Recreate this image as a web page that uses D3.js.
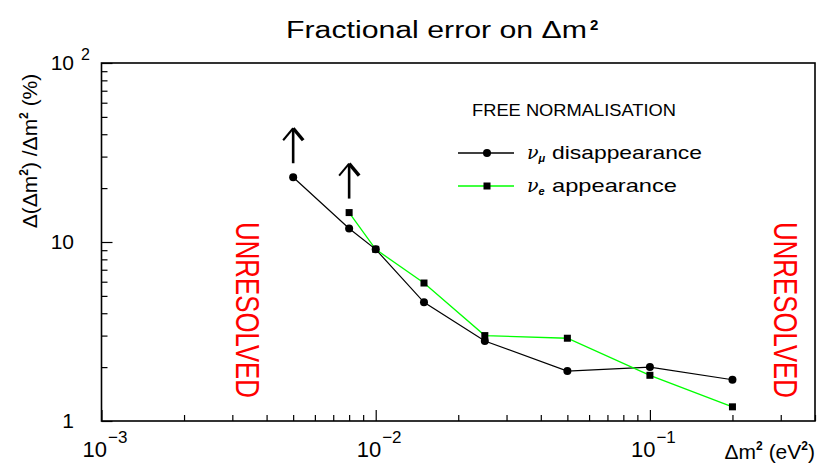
<!DOCTYPE html>
<html>
<head>
<meta charset="utf-8">
<script src="https://cdn.jsdelivr.net/npm/d3@7/dist/d3.min.js"></script>
<style>
  html, body { margin: 0; padding: 0; background: #fff; }
  svg { display: block; font-family: "Liberation Sans", Arial, sans-serif; }
</style>
</head>
<body>
<svg id="chart" width="818" height="466"></svg>
<script>
// Δm² values (eV²) and fractional errors (%)
const disappearanceMass = [0.005, 0.008, 0.01, 0.015, 0.025, 0.05, 0.1, 0.2];
const disappearanceError = [23.0, 11.9, 9.1, 4.6, 2.8, 1.9, 2.0, 1.7];
const appearanceMass = [0.008, 0.01, 0.015, 0.025, 0.05, 0.1, 0.2];
const appearanceError = [14.6, 9.1, 5.9, 3.0, 2.9, 1.8, 1.2];

const xMajorTicks = [1e-3, 1e-2, 1e-1];
const xTickExponents = ["\u22123", "\u22122", "\u22121"];
const yMajorTicks = [1, 10, 100];

const svg = d3.select("#chart");
const L = 101.5, R = 815, T = 63, B = 421;

const x = d3.scaleLog().domain([1e-3, 0.4]).range([L, R]);
const y = d3.scaleLog().domain([1, 100]).range([B, T]);

// minor ticks: 2..9 within each decade
const xMinor = [];
for (let e = -3; e <= -1; e++) for (let k = 2; k <= 9; k++) {
  const v = k * Math.pow(10, e);
  if (v <= 0.4) xMinor.push(v);
}
const yMinor = [];
for (let e = 0; e <= 1; e++) for (let k = 2; k <= 9; k++) yMinor.push(k * Math.pow(10, e));

// axes with inward ticks
function styleAxis(g) {
  g.select(".domain").remove();
  g.selectAll("text").remove();
  g.selectAll("line").attr("stroke", "#000").attr("stroke-width", 1.2);
}
svg.append("g").attr("transform", `translate(0,${B})`)
  .call(d3.axisBottom(x).tickValues(xMinor).tickSize(-6).tickFormat(""))
  .call(styleAxis);
svg.append("g").attr("transform", `translate(0,${B})`)
  .call(d3.axisBottom(x).tickValues(xMajorTicks).tickSize(-11).tickFormat(""))
  .call(styleAxis);
svg.append("g").attr("transform", `translate(${L},0)`)
  .call(d3.axisLeft(y).tickValues(yMinor).tickSize(-6).tickFormat(""))
  .call(styleAxis);
svg.append("g").attr("transform", `translate(${L},0)`)
  .call(d3.axisLeft(y).tickValues(yMajorTicks).tickSize(-11).tickFormat(""))
  .call(styleAxis);

// frame
svg.append("rect").attr("x", L).attr("y", T).attr("width", R - L).attr("height", B - T)
  .attr("fill", "none").attr("stroke", "#000").attr("stroke-width", 1.6);

// x tick labels (10^n)
xMajorTicks.forEach((v, i) => {
  const t = svg.append("text").attr("x", x(v) - 19).attr("y", 457)
    .attr("font-size", 22).attr("fill", "#000");
  t.append("tspan").text("10");
  t.append("tspan").attr("dy", -14).attr("dx", 1).attr("font-size", 17).text(xTickExponents[i]);
});

// y tick labels
yMajorTicks.forEach(v => {
  const t = svg.append("text").attr("x", 74).attr("y", y(v) + 7)
    .attr("font-size", 21).attr("text-anchor", "end").attr("fill", "#000");
  t.text(v === 100 ? "10" : String(v));
  if (v === 100) {
    svg.append("text").attr("x", 81).attr("y", y(v) - 3).attr("font-size", 16).text("2");
  }
});

// axis titles
const xt = svg.append("text").attr("x", R).attr("y", 459).attr("text-anchor", "end")
  .attr("font-size", 21).attr("fill", "#000");
xt.append("tspan").text("\u0394m");
xt.append("tspan").attr("dy", -9).attr("font-size", 12).attr("font-weight", "bold").text("2");
xt.append("tspan").attr("dy", 9).text(" (eV");
xt.append("tspan").attr("dy", -9).attr("font-size", 12).attr("font-weight", "bold").text("2");
xt.append("tspan").attr("dy", 9).text(")");

const yt = svg.append("text").attr("transform", "translate(37,151) rotate(-90)")
  .attr("text-anchor", "middle").attr("font-size", 21).attr("fill", "#000");
yt.append("tspan").text("\u0394(\u0394m");
yt.append("tspan").attr("dy", -9).attr("font-size", 12).attr("font-weight", "bold").text("2");
yt.append("tspan").attr("dy", 9).text(") /\u0394m");
yt.append("tspan").attr("dy", -9).attr("font-size", 12).attr("font-weight", "bold").text("2");
yt.append("tspan").attr("dy", 9).text(" (%)");

// title
svg.append("text").attr("x", 286).attr("y", 38).attr("font-size", 23)
  .attr("textLength", 301).attr("lengthAdjust", "spacingAndGlyphs")
  .text("Fractional error on \u0394m");
svg.append("text").attr("x", 590).attr("y", 30).attr("font-size", 15)
  .attr("font-weight", "bold").text("2");

// UNRESOLVED regions
[236, 774].forEach(px => {
  svg.append("text").attr("transform", `translate(${px},310) rotate(90)`)
    .attr("text-anchor", "middle").attr("font-size", 33).attr("fill", "#ff0000")
    .attr("textLength", 176).attr("lengthAdjust", "spacingAndGlyphs")
    .text("UNRESOLVED");
});

// series lines
const line = d3.line().x(d => x(d[0])).y(d => y(d[1]));
const disData = disappearanceMass.map((m, i) => [m, disappearanceError[i]]);
const appData = appearanceMass.map((m, i) => [m, appearanceError[i]]);

svg.append("path").datum(disData).attr("d", line)
  .attr("fill", "none").attr("stroke", "#000").attr("stroke-width", 1.2);
svg.append("path").datum(appData).attr("d", line)
  .attr("fill", "none").attr("stroke", "#00ff00").attr("stroke-width", 1.3);

svg.selectAll("circle.dis").data(disData).enter().append("circle")
  .attr("class", "dis").attr("cx", d => x(d[0])).attr("cy", d => y(d[1]))
  .attr("r", 4).attr("fill", "#000");
svg.selectAll("rect.app").data(appData).enter().append("rect")
  .attr("class", "app").attr("x", d => x(d[0]) - 3.5).attr("y", d => y(d[1]) - 3.5)
  .attr("width", 7).attr("height", 7).attr("fill", "#000");

// lower-limit arrows above the first point of each series
function arrow(px, py) {
  const tip = py - 49, base = py - 14;
  svg.append("line").attr("x1", px).attr("x2", px).attr("y1", base).attr("y2", tip + 1)
    .attr("stroke", "#000").attr("stroke-width", 2.6);
  svg.append("path").attr("d", `M${px - 10},${tip + 12} L${px},${tip} `)
    .attr("fill", "none").attr("stroke", "#000").attr("stroke-width", 2);
  svg.append("path").attr("d", `M${px},${tip} L${px + 10},${tip + 12}`)
    .attr("fill", "none").attr("stroke", "#000").attr("stroke-width", 3.5);
}
arrow(x(disData[0][0]), y(disData[0][1]));
arrow(x(appData[0][0]), y(appData[0][1]));

// legend
svg.append("text").attr("x", 472).attr("y", 116).attr("font-size", 17)
  .attr("textLength", 204).attr("lengthAdjust", "spacingAndGlyphs")
  .text("FREE NORMALISATION");

const legendRows = [
  { y: 153, color: "#000", marker: "circle", sub: "\u03bc", label: "disappearance", len: 150 },
  { y: 186, color: "#00ff00", marker: "square", sub: "e", label: "appearance", len: 125 }
];
legendRows.forEach(r => {
  svg.append("line").attr("x1", 458).attr("x2", 514).attr("y1", r.y).attr("y2", r.y)
    .attr("stroke", r.color).attr("stroke-width", 1.3);
  if (r.marker === "circle") {
    svg.append("circle").attr("cx", 487).attr("cy", r.y).attr("r", 4).attr("fill", "#000");
  } else {
    svg.append("rect").attr("x", 483.5).attr("y", r.y - 3.5).attr("width", 7).attr("height", 7).attr("fill", "#000");
  }
  const t = svg.append("text").attr("x", 527).attr("y", r.y + 6).attr("font-size", 19);
  t.append("tspan").attr("font-style", "italic").attr("font-family", "DejaVu Serif").text("\u03bd");
  t.append("tspan").attr("dy", 3).attr("font-size", 11).attr("font-weight", "bold")
    .attr("font-style", "italic").text(r.sub);
  svg.append("text").attr("x", 552).attr("y", r.y + 6).attr("font-size", 19)
    .attr("textLength", r.len).attr("lengthAdjust", "spacingAndGlyphs").text(r.label);
});
</script>
</body>
</html>
